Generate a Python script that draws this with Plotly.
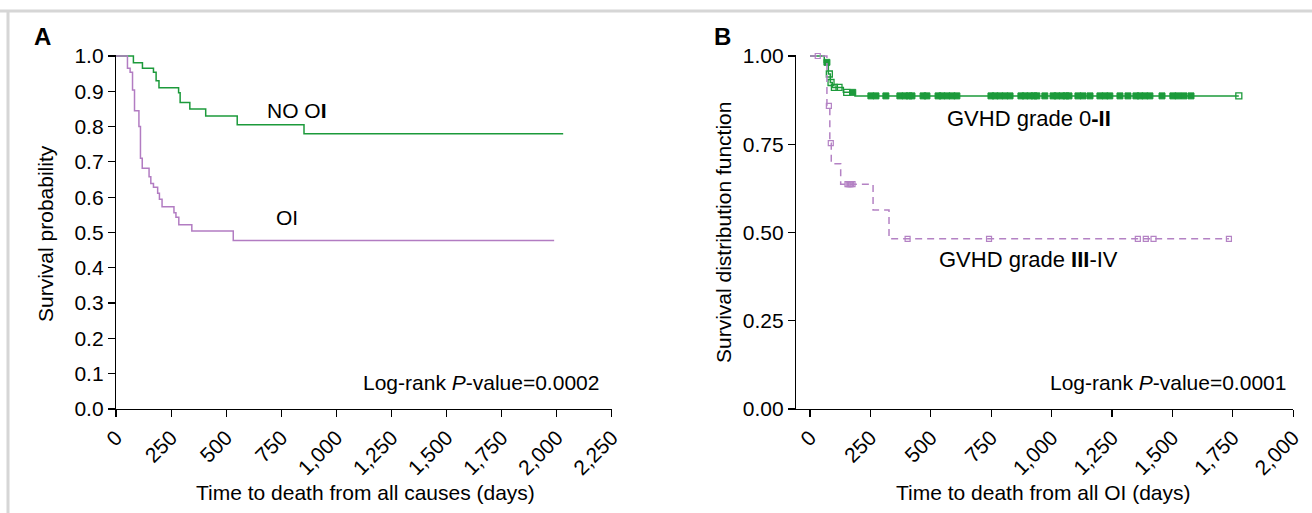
import plotly.graph_objects as go

# ---------------- data ----------------
# Panel A (Kaplan-Meier, all causes)
A_NOOI_T = [0, 79, 120, 170, 182, 195, 284, 291, 335, 407, 550, 853, 2029]
A_NOOI_S = [1.0, 0.981, 0.965, 0.954, 0.930, 0.910, 0.896, 0.868, 0.850, 0.830, 0.805, 0.780, 0.780]
A_OI_T = [0, 52, 64, 75, 84, 104, 111, 119, 150, 158, 170, 189, 197, 209, 263, 272, 285, 344, 532, 1988]
A_OI_S = [1.0, 0.965, 0.954, 0.904, 0.845, 0.800, 0.710, 0.682, 0.658, 0.639, 0.628, 0.611, 0.594,
          0.573, 0.556, 0.543, 0.522, 0.504, 0.477, 0.477]
A_XTICKS = [0, 250, 500, 750, 1000, 1250, 1500, 1750, 2000, 2250]
A_XTICKTEXT = ["0", "250", "500", "750", "1,000", "1,250", "1,500", "1,750", "2,000", "2,250"]
A_YTICKS = [0.0, 0.1, 0.2, 0.3, 0.4, 0.5, 0.6, 0.7, 0.8, 0.9, 1.0]
A_YTICKTEXT = ["0.0", "0.1", "0.2", "0.3", "0.4", "0.5", "0.6", "0.7", "0.8", "0.9", "1.0"]

# Panel B (GVHD grade, death from OI)
B_LOW_T = [0, 59, 76, 84, 92, 138, 186, 1775]
B_LOW_S = [1.0, 0.982, 0.949, 0.925, 0.911, 0.897, 0.887, 0.887]
B_LOW_CENS_OPEN_T = [80, 87, 101, 120, 152, 1775]
B_LOW_CENS_OPEN_S = [0.949, 0.925, 0.911, 0.911, 0.897, 0.887]
B_LOW_CENS_FILL_T = [70, 177, 252, 273, 314, 372, 393, 410, 422, 468, 484, 530, 546, 567, 588, 608,
                     749, 766, 786, 807, 828, 873, 890, 910, 927, 939, 972, 1006, 1022, 1043, 1059,
                     1072, 1109, 1130, 1159, 1200, 1221, 1241, 1283, 1316, 1349, 1366, 1386, 1407,
                     1457, 1502, 1523, 1548, 1577]
B_LOW_CENS_FILL_S = [0.982, 0.897] + [0.887] * 47

B_HIGH_T = [0, 70, 82, 88, 127, 261, 327, 1734]
B_HIGH_S = [1.0, 0.859, 0.753, 0.695, 0.637, 0.564, 0.482, 0.482]
B_HIGH_CENS_T = [32, 78, 86, 155, 160, 165, 170, 176, 404, 741, 1357, 1390, 1422, 1734]
B_HIGH_CENS_S = [1.0, 0.859, 0.753, 0.637, 0.637, 0.637, 0.637, 0.637, 0.482, 0.482, 0.482,
                 0.482, 0.482, 0.482]
B_XTICKS = [0, 250, 500, 750, 1000, 1250, 1500, 1750, 2000]
B_XTICKTEXT = ["0", "250", "500", "750", "1,000", "1,250", "1,500", "1,750", "2,000"]
B_YTICKS = [0.0, 0.25, 0.5, 0.75, 1.0]
B_YTICKTEXT = ["0.00", "0.25", "0.50", "0.75", "1.00"]

# ---------------- style ----------------
W, H = 1312, 513
FONT = "Liberation Sans, Arial, sans-serif"
GREEN = "#1c9a3b"
PURPLE_A = "#b27cc2"
PURPLE_B = "#b482c4"


def px_x(p):
    return p / W


def px_y(p):
    return 1 - p / H


fig = go.Figure()

# Panel A
fig.add_trace(go.Scatter(x=A_NOOI_T, y=A_NOOI_S, mode="lines", line=dict(color=GREEN, width=1.5, shape="hv"),
                         xaxis="x", yaxis="y", showlegend=False, hoverinfo="skip"))
fig.add_trace(go.Scatter(x=A_OI_T, y=A_OI_S, mode="lines", line=dict(color=PURPLE_A, width=1.5, shape="hv"),
                         xaxis="x", yaxis="y", showlegend=False, hoverinfo="skip"))

# Panel B
fig.add_trace(go.Scatter(x=B_LOW_T, y=B_LOW_S, mode="lines", line=dict(color=GREEN, width=1.5, shape="hv"),
                         xaxis="x2", yaxis="y2", showlegend=False, hoverinfo="skip"))
fig.add_trace(go.Scatter(x=B_LOW_CENS_FILL_T, y=B_LOW_CENS_FILL_S, mode="markers",
                         marker=dict(symbol="square", size=6, color=GREEN, line=dict(color=GREEN, width=1)),
                         xaxis="x2", yaxis="y2", showlegend=False, hoverinfo="skip", cliponaxis=False))
fig.add_trace(go.Scatter(x=B_LOW_CENS_OPEN_T, y=B_LOW_CENS_OPEN_S, mode="markers",
                         marker=dict(symbol="square-open", size=6, color=GREEN, line=dict(color=GREEN, width=1.3)),
                         xaxis="x2", yaxis="y2", showlegend=False, hoverinfo="skip", cliponaxis=False))
fig.add_trace(go.Scatter(x=B_HIGH_T, y=B_HIGH_S, mode="lines",
                         line=dict(color=PURPLE_B, width=1.5, shape="hv", dash="7px,5px"),
                         xaxis="x2", yaxis="y2", showlegend=False, hoverinfo="skip"))
fig.add_trace(go.Scatter(x=B_HIGH_CENS_T, y=B_HIGH_CENS_S, mode="markers",
                         marker=dict(symbol="square-open", size=5, color=PURPLE_B, line=dict(color=PURPLE_B, width=1.2)),
                         xaxis="x2", yaxis="y2", showlegend=False, hoverinfo="skip", cliponaxis=False))

axis_common = dict(showgrid=False, zeroline=False, showline=True, linecolor="black", linewidth=1.2,
                   ticks="outside", ticklen=7, tickwidth=1.2, tickcolor="black", automargin=False,
                   fixedrange=True)
YFONT = dict(family=FONT, size=21, color="black")
XFONT = dict(family=FONT, size=21, color="black")

Y_TOP = 56 - 0.004 * 353
Y_BOT = 409

fig.update_layout(
    width=W, height=H,
    margin=dict(l=0, r=0, t=0, b=0, autoexpand=False),
    paper_bgcolor="white", plot_bgcolor="white",
    xaxis=dict(domain=[px_x(116), px_x(612)], range=[0, 2250.5], anchor="y", tickfont=XFONT,
               tickvals=A_XTICKS, ticktext=A_XTICKTEXT, tickangle=-45, **axis_common),
    yaxis=dict(domain=[px_y(Y_BOT), px_y(Y_TOP)], range=[0, 1.004], anchor="x", tickfont=YFONT,
               tickvals=A_YTICKS, ticktext=A_YTICKTEXT, **axis_common),
    xaxis2=dict(domain=[px_x(796), px_x(1293.3)], range=[-58, 2000.5], anchor="y2", tickfont=XFONT,
                tickvals=B_XTICKS, ticktext=B_XTICKTEXT, tickangle=-45, **axis_common),
    yaxis2=dict(domain=[px_y(Y_BOT), px_y(Y_TOP)], range=[0, 1.004], anchor="x2", tickfont=YFONT,
                tickvals=B_YTICKS, ticktext=B_YTICKTEXT, **axis_common),
)

# frame lines (light gray border)
fig.add_shape(type="line", xref="paper", yref="paper", x0=0, x1=1, y0=px_y(11), y1=px_y(11),
              line=dict(color="#d6d6d6", width=3))
fig.add_shape(type="line", xref="paper", yref="paper", x0=px_x(8), x1=px_x(8), y0=0, y1=px_y(11),
              line=dict(color="#d6d6d6", width=3))


def ann(text, x, y, size=21, angle=0, xanchor="center", yanchor="middle"):
    fig.add_annotation(text=text, x=px_x(x), y=px_y(y), xref="paper", yref="paper",
                       showarrow=False, textangle=angle, xanchor=xanchor, yanchor=yanchor,
                       font=dict(family=FONT, size=size, color="black"))


ann("<b>A</b>", 42, 36, size=24)
ann("<b>B</b>", 722, 36, size=24)
ann("NO O<b>I</b>", 297, 111)
ann("OI", 287, 217)
ann("Log-rank <i>P</i>-value=0.0002", 601, 382, xanchor="right")
ann("Log-rank <i>P</i>-value=0.0001", 1288, 382, xanchor="right")
ann("Time to death from all causes (days)", 365, 492)
ann("Time to death from all OI (days)", 1043, 492)
ann("Survival probability", 45, 234, angle=-90)
ann("Survival distribution function", 723, 233, angle=-90)
ann("GVHD grade 0<b>-II</b>", 1029, 119, size=22)
ann("GVHD grade <b>III</b>-IV", 1028, 259, size=22)

fig.write_html("out.html", config={"displayModeBar": False, "staticPlot": True},
               post_script="document.body.style.margin='0';document.body.style.overflow='hidden';")
